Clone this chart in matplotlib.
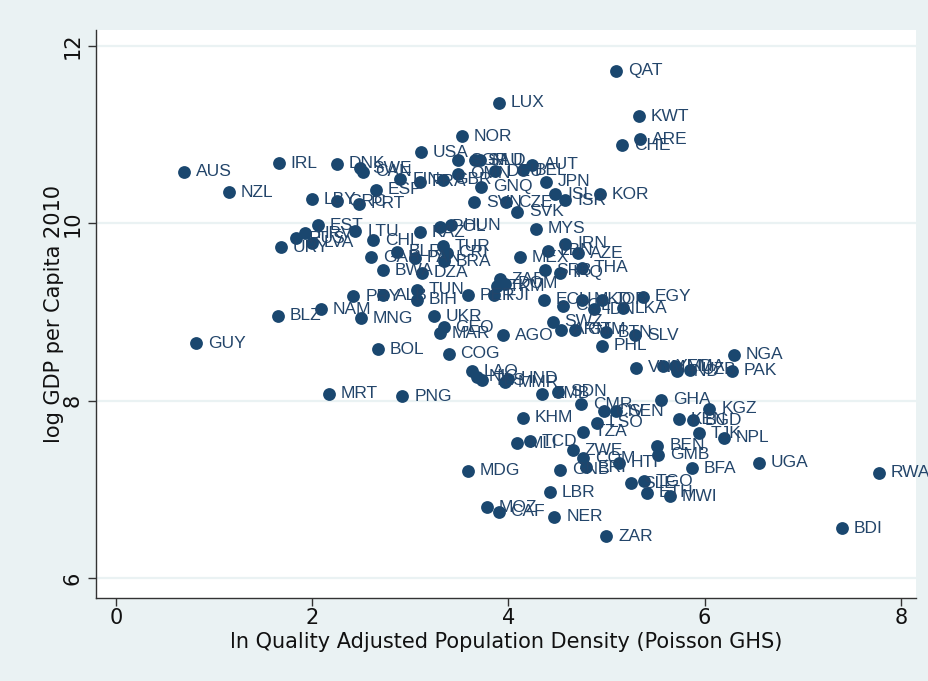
import matplotlib.pyplot as plt
import matplotlib.font_manager as fm

# ── Data ───────────────────────────────────────────────────────────────────
codes = [
    "QAT", "LUX", "KWT", "NOR", "ARE", "CHE", "USA", "AUS", "IRL", "DNK",
    "SWE", "CAN", "FIN", "ESP", "NZL", "LBY", "GRC", "PRT", "FRA", "GBR",
    "SGP", "SAU", "NLD", "AUT", "OMN", "DEU", "BEL", "GNQ", "JPN", "ISL",
    "ISR", "KOR", "SVN", "CZE", "SVK", "MYS", "EST", "LTU", "HRV", "RUS",
    "LVA", "URY", "CHL", "GAB", "HUN", "POL", "KAZ", "BLR", "BRA", "TUR",
    "CRI", "PAN", "BWA", "DZA", "MEX", "IRN", "LBN", "AZE", "SRB", "IRQ",
    "THA", "ZAF", "DOM", "TKM", "TUN", "PRY", "ALB", "BIH", "PER", "FJI",
    "ECU", "COL", "MKD", "JOR", "IDN", "LKA", "EGY", "NAM", "BLZ", "MNG",
    "UKR", "GEO", "MAR", "SWZ", "ARM", "GTM", "BTN", "SLV", "AGO", "PHL",
    "GUY", "BOL", "COG", "NGA", "PAK", "VNM", "YEM", "MDA", "IND", "UZB",
    "LAO", "NIC", "TLS", "MMR", "HND", "MRT", "PNG", "ZMB", "SDN", "CMR",
    "GHA", "CIV", "SEN", "KGZ", "KHM", "LSO", "KEN", "BGD", "TZA", "TJK",
    "NPL", "MLI", "TCD", "ZWE", "BEN", "GMB", "COM", "ERI", "HTI", "GNB",
    "MDG", "BFA", "UGA", "RWA", "SLE", "TGO", "ETH", "MWI", "LBR", "MOZ",
    "CAF", "NER", "ZAR", "BDI",
]
density = [
    5.10, 3.90, 5.33, 3.53, 5.34, 5.16, 3.11, 0.69, 1.66, 2.25,
    2.49, 2.52, 2.90, 2.65, 1.15, 2.00, 2.25, 2.48, 3.10, 3.33,
    3.49, 3.66, 3.71, 4.24, 3.49, 3.86, 4.15, 3.72, 4.38, 4.48,
    4.58, 4.93, 3.65, 3.98, 4.09, 4.28, 2.06, 2.44, 1.93, 1.84,
    2.00, 1.68, 2.62, 2.60, 3.42, 3.30, 3.10, 2.86, 3.34, 3.33,
    3.37, 3.05, 2.72, 3.12, 4.12, 4.58, 4.40, 4.71, 4.37, 4.53,
    4.75, 3.91, 3.97, 3.88, 3.07, 2.42, 2.72, 3.07, 3.59, 3.85,
    4.36, 4.56, 4.75, 4.95, 4.87, 5.17, 5.37, 2.09, 1.65, 2.50,
    3.24, 3.34, 3.30, 4.45, 4.54, 4.68, 4.99, 5.29, 3.95, 4.95,
    0.82, 2.67, 3.39, 6.30, 6.28, 5.30, 5.58, 5.70, 5.72, 5.85,
    3.63, 3.68, 3.73, 3.97, 4.00, 2.17, 2.92, 4.34, 4.51, 4.74,
    5.56, 4.97, 5.10, 6.05, 4.15, 4.90, 5.74, 5.88, 4.76, 5.94,
    6.20, 4.09, 4.22, 4.66, 5.52, 5.53, 4.76, 4.79, 5.13, 4.53,
    3.59, 5.87, 6.55, 7.78, 5.25, 5.38, 5.41, 5.65, 4.42, 3.78,
    3.90, 4.47, 5.00, 7.40,
]
log_gdp = [
    11.72, 11.36, 11.21, 10.98, 10.95, 10.88, 10.80, 10.58, 10.68, 10.67,
    10.62, 10.58, 10.50, 10.38, 10.35, 10.27, 10.25, 10.22, 10.47, 10.49,
    10.71, 10.71, 10.71, 10.66, 10.56, 10.59, 10.60, 10.41, 10.47, 10.33,
    10.26, 10.33, 10.24, 10.24, 10.13, 9.94, 9.98, 9.91, 9.89, 9.83,
    9.78, 9.73, 9.81, 9.62, 9.98, 9.96, 9.90, 9.68, 9.57, 9.74,
    9.67, 9.61, 9.47, 9.44, 9.62, 9.77, 9.69, 9.66, 9.47, 9.44,
    9.50, 9.37, 9.32, 9.29, 9.25, 9.18, 9.19, 9.14, 9.19, 9.19,
    9.14, 9.07, 9.14, 9.14, 9.03, 9.04, 9.17, 9.03, 8.96, 8.93,
    8.95, 8.83, 8.76, 8.89, 8.80, 8.80, 8.77, 8.74, 8.74, 8.62,
    8.65, 8.58, 8.53, 8.52, 8.34, 8.37, 8.39, 8.39, 8.33, 8.35,
    8.33, 8.27, 8.23, 8.21, 8.25, 8.08, 8.05, 8.08, 8.10, 7.96,
    8.01, 7.88, 7.88, 7.91, 7.81, 7.75, 7.79, 7.78, 7.65, 7.63,
    7.58, 7.52, 7.54, 7.44, 7.49, 7.39, 7.35, 7.25, 7.30, 7.22,
    7.21, 7.24, 7.30, 7.19, 7.07, 7.09, 6.96, 6.92, 6.97, 6.80,
    6.75, 6.69, 6.47, 6.56,
]

xticks = [0, 2, 4, 6, 8]
yticks = [6, 8, 10, 12]

# ── Style (Stata s2color look) ─────────────────────────────────────────────
BG = "#eaf2f3"
NAVY = "#1a476f"
names = {f.name for f in fm.fontManager.ttflist}
narrow = "Liberation Sans Narrow" if "Liberation Sans Narrow" in names else "DejaVu Sans"
plt.rcParams["font.family"] = ["Liberation Sans", "DejaVu Sans"]

fig = plt.figure(figsize=(9.29, 6.81), dpi=100, facecolor=BG)
ax = fig.add_axes([0.1033, 0.1219, 0.8827, 0.8340])
ax.set_facecolor("white")

ax.scatter(density, log_gdp, s=85, color=NAVY, linewidths=0, zorder=3)
for c, x, y in zip(codes, density, log_gdp):
    ax.annotate(c, (x, y), xytext=(8.5, 0), textcoords="offset points",
                va="center", ha="left", fontsize=12.5, color="#23456a", zorder=4)

ax.set_xlim(-0.204, 8.155)
ax.set_ylim(5.775, 12.18)
ax.set_xticks(xticks)
ax.set_yticks(yticks)
ax.grid(axis="y", color=BG, linewidth=1.6, zorder=0)
ax.tick_params(length=6, width=1, color="#333333", labelcolor="#111111",
               labelsize=15)
ax.tick_params(axis="x", pad=1)
for lab in ax.get_xticklabels() + ax.get_yticklabels():
    lab.set_family(narrow)
for lab in ax.get_yticklabels():
    lab.set_rotation(90)
    lab.set_va("center")

for side in ["top", "right"]:
    ax.spines[side].set_visible(False)
for side in ["left", "bottom"]:
    ax.spines[side].set_color("#333333")
    ax.spines[side].set_linewidth(1)

ax.set_xlabel("ln Quality Adjusted Population Density (Poisson GHS)",
              fontsize=15, family=narrow, color="#111111", labelpad=3)
ax.set_ylabel("log GDP per Capita 2010", fontsize=15, family=narrow,
              color="#111111", labelpad=-1)

fig.savefig("out.png", dpi=100, facecolor=BG)
